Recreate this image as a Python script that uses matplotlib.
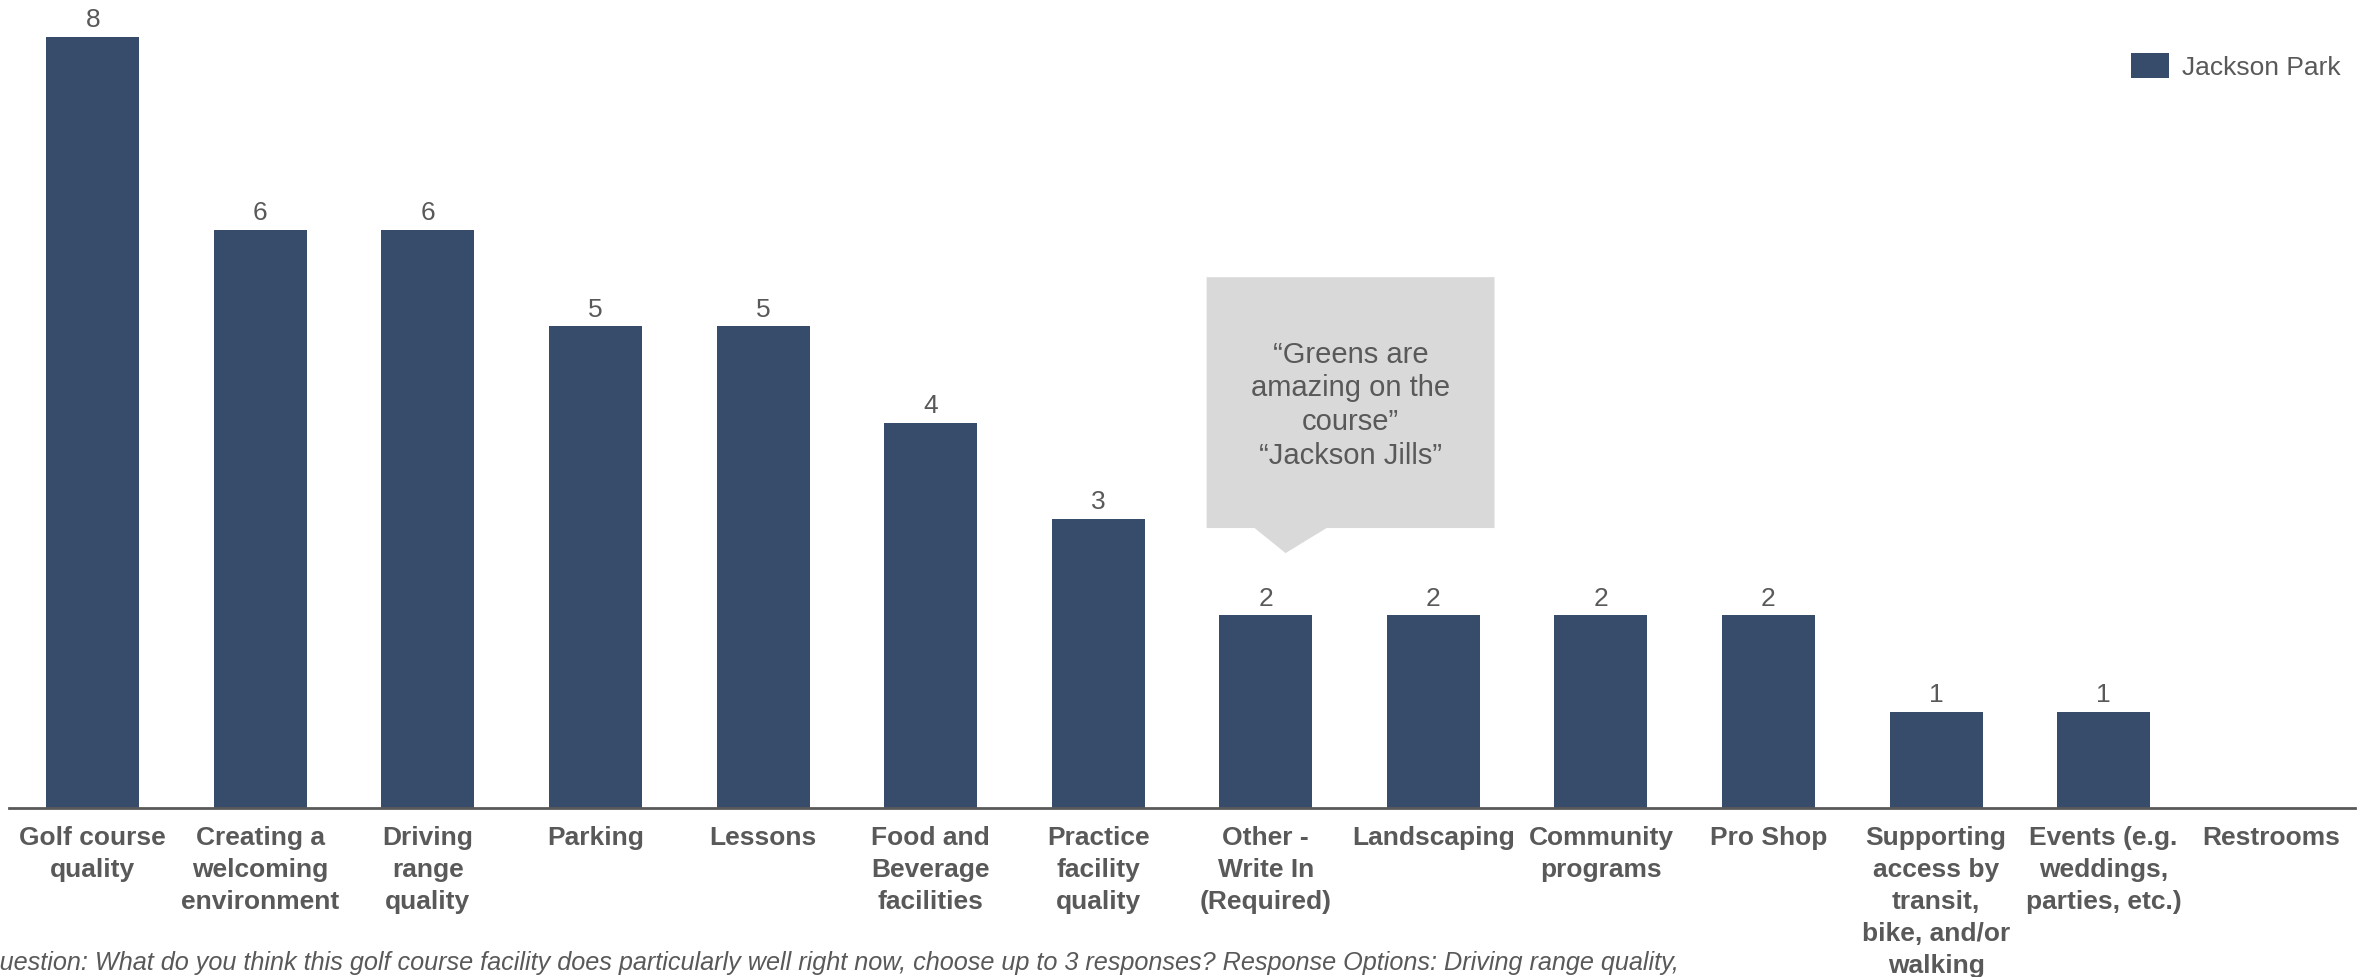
import matplotlib
matplotlib.use('Agg')
import matplotlib.pyplot as plt
from matplotlib.patches import Polygon

plt.rcParams['font.family'] = ['Liberation Sans', 'DejaVu Sans']

# data
categories = ['Golf course\nquality', 'Creating a\nwelcoming\nenvironment', 'Driving\nrange\nquality',
              'Parking', 'Lessons', 'Food and\nBeverage\nfacilities', 'Practice\nfacility\nquality',
              'Other -\nWrite In\n(Required)', 'Landscaping', 'Community\nprograms', 'Pro Shop',
              'Supporting\naccess by\ntransit,\nbike, and/or\nwalking',
              'Events (e.g.\nweddings,\nparties, etc.)', 'Restrooms']
counts = [8, 6, 6, 5, 5, 4, 3, 2, 2, 2, 2, 1, 1, 0]
series_name = 'Jackson Park'
quote = '\u201cGreens are\namazing on the\ncourse\u201d\n\u201cJackson Jills\u201d'
footnote = ('Question: What do you think this golf course facility does particularly well right now, '
            'choose up to 3 responses? Response Options: Driving range quality,')

bar_color = '#374C6B'
grey = '#595959'

W, H = 2369, 978
fig = plt.figure(figsize=(W / 100, H / 100), dpi=100)
ax = fig.add_axes([9 / W, 169 / H, 2346 / W, 771 / H])

x = list(range(len(categories)))
bars = ax.bar(x, counts, width=0.555, color=bar_color, label=series_name)
ax.bar_label(bars, labels=[str(c) if c else '' for c in counts], padding=4,
             fontsize=19, color=grey)

ax.set_xlim(-0.5, 13.5)
ax.set_ylim(0, 8)
ax.set_yticks([])
ax.set_xticks(x)
ax.set_xticklabels(categories, fontsize=19, fontweight='bold', color=grey, linespacing=1.42)
ax.tick_params(axis='x', length=0, pad=12)
for s in ['top', 'right', 'left']:
    ax.spines[s].set_visible(False)
ax.spines['bottom'].set_color(grey)
ax.spines['bottom'].set_linewidth(2)

# callout box for the "Other" bar
box = [(6.647, 2.905), (6.933, 2.905), (7.118, 2.645), (7.363, 2.905), (8.365, 2.905),
       (8.365, 5.508), (6.647, 5.508)]
ax.add_patch(Polygon(box, closed=True, facecolor='#D9D9D9', edgecolor='none', clip_on=False))
ax.text(7.506, 4.19, quote, ha='center', va='center', fontsize=21, color=grey, linespacing=1.26)

leg = fig.legend(loc='upper right', bbox_to_anchor=(2341 / W, 1 - 54 / H), frameon=False,
                 fontsize=19, handlelength=1.44, handleheight=1.06, handletextpad=0.5,
                 borderpad=0, borderaxespad=0)
for t in leg.get_texts():
    t.set_color(grey)

fig.text(-20 / W, 1 - 963 / H, footnote, fontsize=18.2, style='italic', color=grey,
         ha='left', va='center')

fig.savefig('out.png', dpi=100)
